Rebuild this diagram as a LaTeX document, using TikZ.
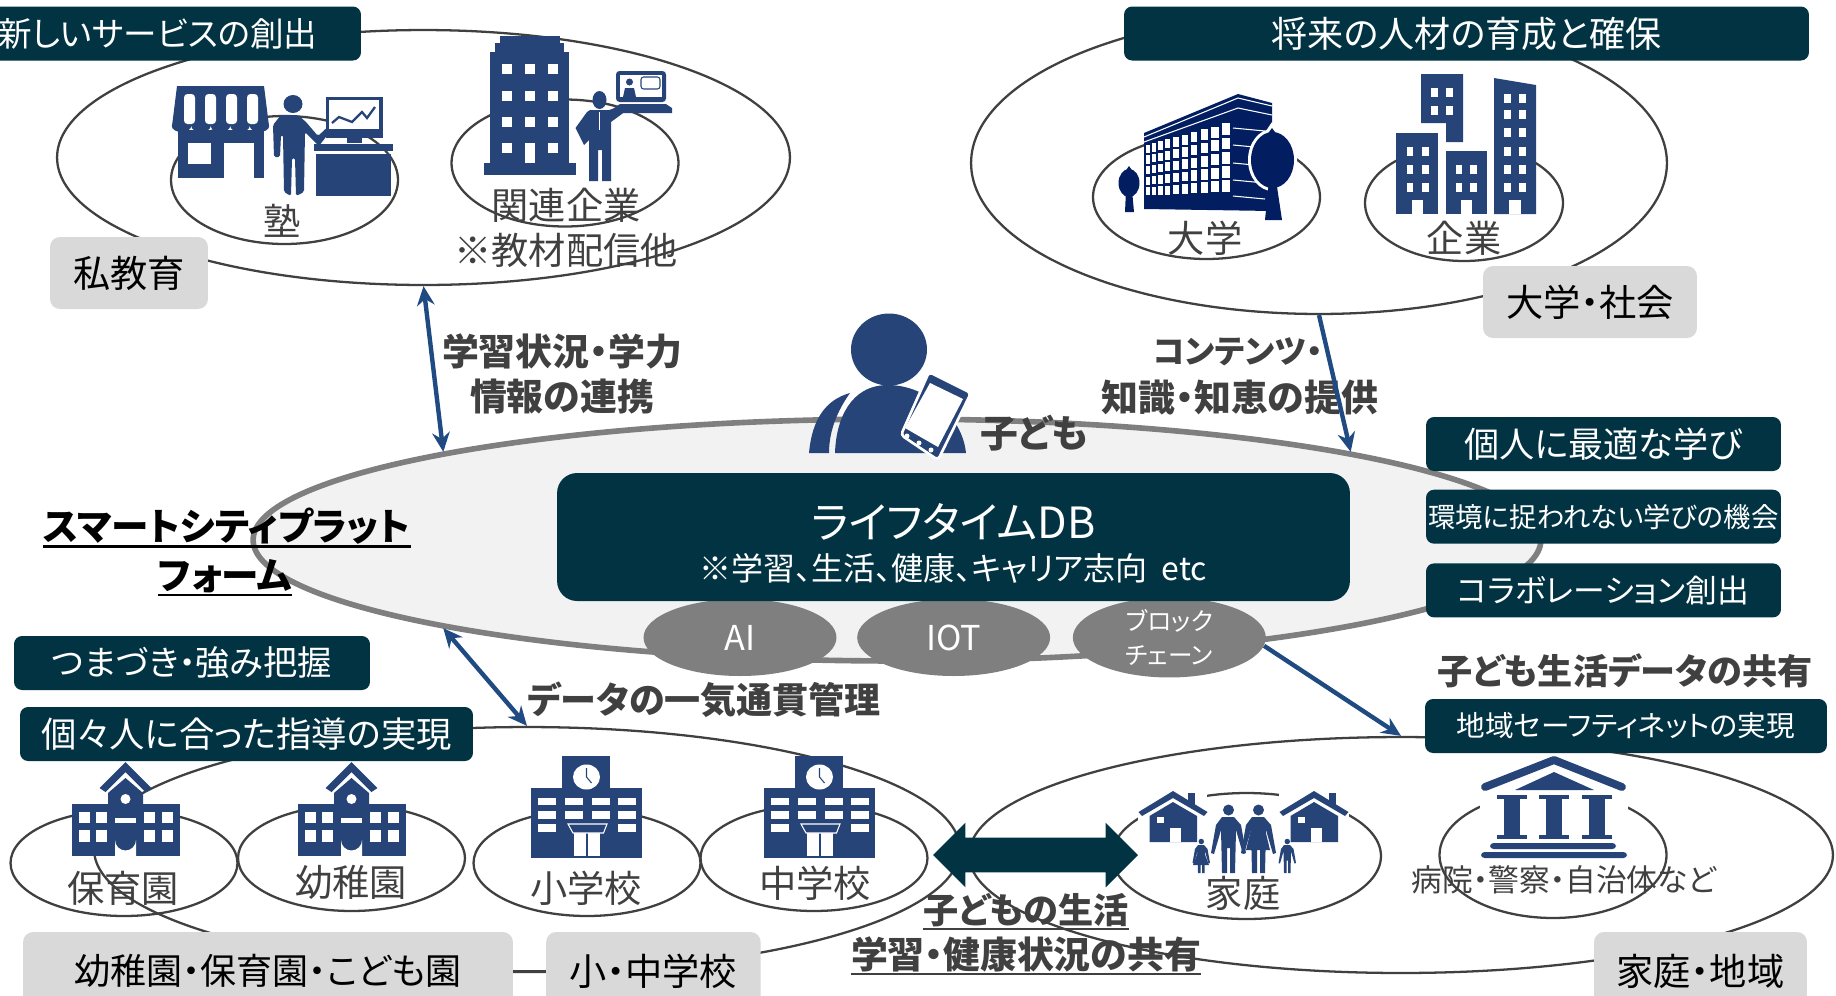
\documentclass[tikz,border=0pt]{standalone}
\usepackage{fontspec}
\setmainfont[RawFeature=+palt]{Noto Sans CJK JP}
\usepackage{xcolor}
\usetikzlibrary{arrows.meta}
\usetikzlibrary{positioning}
\usetikzlibrary{shapes}
\definecolor{tagteal}{HTML}{023343}
\definecolor{iconblue}{HTML}{264478}
\definecolor{campusblue}{HTML}{021E60}
\definecolor{flowblue}{HTML}{1F4A82}
\definecolor{textgrey}{HTML}{404040}
\definecolor{ringgrey}{HTML}{404040}
\definecolor{badgegrey}{HTML}{D9D9D9}
\definecolor{blobgrey}{HTML}{7F7F7F}
\definecolor{platfill}{HTML}{F2F2F2}
\newcommand{\fsize}[1]{\fontsize{#1}{#1}\selectfont}

\tikzset{
    ring/.style={draw=ringgrey, ellipse, line width=1.3pt, inner sep=0pt},
    tagbox/.style={fill=tagteal, text=white, rounded corners=0.16cm, inner sep=0pt,
        minimum height=1.08cm, align=center},
    badge/.style={fill=badgegrey, text=black, rounded corners=0.2cm, inner sep=0pt,
        font=\fsize{21.2}},
    thinlabel/.style={text=textgrey, inner sep=0pt, font=\fsize{21.2}},
    boldlabel/.style={text=textgrey, inner sep=0pt, font=\fsize{20.5}\bfseries},
    blob/.style={fill=blobgrey, text=white, ellipse, inner sep=0pt,
        minimum width=3.86cm, minimum height=1.54cm, align=center},
    flow/.style={draw=flowblue, line width=2.5pt, >={Stealth[length=11pt,width=10pt]}},
    kinder/.pic={
        \fill[iconblue] (-54,42) rectangle (54.5,94);
        \fill[iconblue] (-17.5,42) -- (-17.5,31) -- (0,16) -- (17.5,31) -- (17.5,42) -- cycle;
        \fill[iconblue] (0,0) -- (26,26) -- (20,30) -- (0,10) -- (-20,30) -- (-26,26) -- cycle;
        \fill[white] (0,37) circle[radius=5];
        \foreach \wx in {-46.5,-29.5,18.5,36.5} {
            \fill[white] (\wx,50) rectangle +(11,11);
            \fill[white] (\wx,68) rectangle +(11,12);
        }
        \fill[white] (-10.5,56) rectangle (10.5,61);
        \fill[white] (-10.5,94) -- (-10.5,78) arc[start angle=180, end angle=0, radius=10.5] -- (10.5,94) -- cycle;
    },
    schoolhouse/.pic={
        \fill[iconblue] (-55.5,0) rectangle (55.5,70);
        \fill[iconblue] (-24.5,-32) rectangle (23.5,0);
        \fill[white] (0,-11) ellipse[x radius=13.5, y radius=12.5];
        \draw[iconblue, line width=0.6pt] (0,-20) -- (0,-11) -- (5,-5);
        \foreach \wx in {-48.5,-21.5,5,31.5} {
            \fill[white] (\wx,10) rectangle +(18,7);
            \fill[white] (\wx,23) rectangle +(18,8);
        }
        \foreach \wx in {-48.5,31.5} \fill[white] (\wx,36) rectangle +(18,8);
        \fill[white] (-12.5,45) rectangle (13.5,68);
        \draw[iconblue, line width=0.6pt] (0.5,45) -- (0.5,68);
        \draw[white, fill=iconblue, line width=0.6pt] (-18.5,36) -- (20.5,36) -- (17,45) -- (-13.5,45) -- cycle;
    },
    house/.pic={
        \fill[iconblue] (15,2) rectangle (22,14);
        \fill[iconblue] (0,0) -- (34.5,21) -- (31,25) -- (0,7) -- (-31,25) -- (-34.5,21) -- cycle;
        \fill[iconblue] (0,11) -- (24,25) -- (24,51) -- (-23.5,51) -- (-23.5,25) -- cycle;
        \fill[white] (-16,26) rectangle (-9,32);
        \fill[white] (-3,37) rectangle (8,51);
    },
    adult/.pic={
        \fill[iconblue] (0.5,-63) circle[radius=5.5];
        \fill[iconblue] (-6,-56) -- (6,-56) -- (13,-48) -- (18,-20) -- (15,-19) -- (8,-43) -- (7,0)
            -- (2,0) -- (2,-25) -- (-1,-25) -- (-1,0) -- (-6,0) -- (-7,-43) -- (-14,-19) -- (-17,-20) -- (-12,-48) -- cycle;
    }
}

\begin{document}
\begin{tikzpicture}[x=0.02cm, y=-0.02cm]
    \clip (0,0) rectangle (1836,995);

    % rings
    \node[ring, minimum width=14.66cm, minimum height=5.1cm] (privateell) at (423.5,157.5) {};
    \node[ring, minimum width=4.54cm, minimum height=2.56cm] (jukuell) at (284.5,180) {};
    \node[ring, minimum width=4.54cm, minimum height=2.54cm] (kanrenell) at (565,163) {};
    \node[ring, minimum width=13.92cm, minimum height=6.04cm] (futureell) at (1319,163) {};
    \node[ring, minimum width=4.54cm, minimum height=2.48cm] (univell) at (1206.5,197) {};
    \node[ring, minimum width=3.96cm, minimum height=2.32cm] (compell) at (1464,203) {};
    \node[ring, minimum width=17.32cm, minimum height=4.9cm] (schoolell) at (527,849.5) {};
    \node[ring, minimum width=4.54cm, minimum height=2.12cm] (hoikuell) at (124,863) {};
    \node[ring, minimum width=4.54cm, minimum height=2.12cm] (youchiell) at (351.5,858) {};
    \node[ring, minimum width=4.54cm, minimum height=2.12cm] (shoell) at (587,863) {};
    \node[ring, minimum width=4.54cm, minimum height=2.12cm] (chuell) at (814,858) {};
    \node[ring, minimum width=17.28cm, minimum height=4.72cm] (homeell) at (1401,855) {};
    \node[ring, minimum width=5.38cm, minimum height=2.52cm] (familyell) at (1246.5,856) {};
    \node[ring, minimum width=4.54cm, minimum height=2.52cm] (civicell) at (1553,855) {};

    % platform
    \node[ellipse, draw=blobgrey, fill=platfill, line width=3.2pt, inner sep=0pt,
        minimum width=25.76cm, minimum height=4.84cm] (platform) at (897,540) {};
    \node[blob] (aiell) at (740,637.5) {\fsize{19.5}AI};
    \node[blob, right=0.4cm of aiell] (iotell) {\fsize{19.5}IOT};
    \node[blob, right=0.44cm of iotell] (blockell) {\fsize{14}ブロック\\[7.6pt]\fsize{14}チェーン};

    % shop and teacher
    \fill[iconblue] (177,86) -- (264,86) -- (269,126) -- (172,126) -- cycle;
    \foreach \sx in {181.5,201,220.5,240,259.5} \fill[iconblue] (\sx,126) ellipse[x radius=9.7, y radius=6];
    \foreach \sx in {184,205,226,247} \fill[white, rounded corners=2pt] (\sx,94) rectangle +(11,30);
    \fill[iconblue] (178,130) rectangle (264,178);
    \fill[white] (188,143) rectangle (211,164);
    \fill[white] (223.5,143) rectangle (253.6,178);
    \fill[iconblue] (293,104) ellipse[x radius=9.5, y radius=9];
    \fill[iconblue, rounded corners=1pt] (281,115) -- (298,115) -- (306,122) -- (318,136) -- (333,122) -- (335,125) -- (319,146)
        -- (305,132) -- (304,192) -- (296,196) -- (295,158) -- (292,158) -- (291,196) -- (284,192) -- (283,135) -- (281,135)
        -- (280,157) -- (274,157) -- (273,125) -- cycle;
    \fill[iconblue] (325.5,97) rectangle (382.6,138);
    \fill[white] (329,100) rectangle (379,129);
    \draw[iconblue, line width=1.3pt] (332,123) -- (339,117) -- (352,122) -- (362,112) -- (367,118) -- (375,107);
    \fill[iconblue] (347,138) rectangle (362,143);
    \fill[iconblue] (314,144) rectangle (393,151);
    \fill[iconblue] (316,154) rectangle (391,196);

    % office tower and presenter
    \fill[iconblue] (490,52) rectangle (569,163);
    \fill[iconblue] (495,43) rectangle (564,52);
    \fill[iconblue] (500,36) rectangle (560,43);
    \fill[iconblue] (484,163) rectangle (575.5,175);
    \foreach \wy in {64,91,117,143} {
        \fill[white] (501.5,\wy) rectangle +(10.5,10);
        \fill[white] (547.5,\wy) rectangle +(10.5,10);
    }
    \foreach \wy in {64,91,117} \fill[white] (524.5,\wy) rectangle +(10.5,10);
    \fill[white] (524.5,143) rectangle (535,163);
    \fill[iconblue] (599.5,100) ellipse[x radius=7, y radius=9];
    \fill[iconblue] (590,110) -- (609,110) -- (628,104) -- (630,108) -- (611,122) -- (611,181) -- (602,181) -- (602,150)
        -- (598,150) -- (598,181) -- (589,181) -- (589,140) -- (584,145) -- (575.5,128) -- (587,112) -- cycle;
    \draw[white, line width=0.6pt] (599.5,112) -- (599.5,130);
    \fill[iconblue, rounded corners=2pt] (616,71) rectangle (666,102);
    \fill[white] (620,75) rectangle (662,97);
    \fill[iconblue] (629.5,82) circle[radius=3.5];
    \fill[iconblue] (623,97) -- (625,88) -- (634,88) -- (636,97) -- cycle;
    \draw[iconblue, line width=0.6pt, rounded corners=1.5pt] (641,77) rectangle (660,89);
    \fill[iconblue] (620,104) -- (666,104) -- (672,108) -- (672,113) -- (607,113) -- cycle;

    % university
    \fill[campusblue] (1144,133) -- (1238,94) -- (1272,103) -- (1272,211) -- (1144,209) -- cycle;
    \draw[white, line width=0.6pt] (1144,137) -- (1238,98) -- (1272,106);
    \draw[white, line width=0.6pt] (1144,142) -- (1238,108) -- (1272,115);
    \foreach \wc in {0,...,9} \foreach \wr in {0,...,4} {
        \pgfmathsetmacro{\wl}{1146+5.5*\wc+0.33*\wc*\wc}
        \pgfmathsetmacro{\wt}{144-(\wl-1145)*24/86}
        \pgfmathsetmacro{\wh}{(197-(\wl-1145)*4/86-\wt)/5}
        \fill[white] (\wl,\wt+\wr*\wh+1) rectangle (\wl+3.5+0.5*\wc,\wt+\wr*\wh+\wh-1.5);
    }
    \foreach \wy in {128,145,163,180,196} \draw[white, line width=0.6pt] (1233,\wy) -- (1265,\wy+3);
    \fill[white] (1272.5,160) ellipse[x radius=24.5, y radius=31];
    \fill[white] (1272,122) -- (1289,147) -- (1255,147) -- cycle;
    \fill[campusblue] (1272.5,160) ellipse[x radius=21.5, y radius=28];
    \fill[campusblue] (1272,128) -- (1286,147) -- (1258,147) -- cycle;
    \fill[campusblue] (1269,180) -- (1276,180) -- (1282,220) -- (1265,220) -- cycle;
    \fill[campusblue] (1129,183) ellipse[x radius=10.5, y radius=14];
    \fill[campusblue] (1129,166) -- (1136,176) -- (1122,176) -- cycle;
    \fill[campusblue] (1126,190) -- (1132,190) -- (1134,212) -- (1125,212) -- cycle;

    % city blocks
    \fill[white] (1396,74) rectangle (1536,214);
    \fill[iconblue] (1421,74) -- (1463,74) -- (1463,142) -- (1446,142) -- (1446,123) -- (1421,123) -- cycle;
    \fill[iconblue] (1396,133) rectangle (1438,214);
    \fill[iconblue] (1445.5,151) rectangle (1487,214);
    \fill[iconblue] (1494,78) -- (1536,85) -- (1536,214) -- (1494,214) -- cycle;
    \foreach \wy in {88,106} \foreach \wx in {1431,1446} \fill[white] (\wx,\wy) rectangle +(7,8.5);
    \foreach \wy in {147,165,183} \foreach \wx in {1406.5,1422} \fill[white] (\wx,\wy) rectangle +(6.5,8.5);
    \foreach \wy in {165,183} \foreach \wx in {1455.7,1470} \fill[white] (\wx,\wy) rectangle +(6.7,8.5);
    \foreach \wy in {94,110,128,147,165,183} \foreach \wx in {1504,1519} \fill[white] (\wx,\wy) rectangle +(7,8.5);
    \fill[white] (1411.6,200) rectangle (1423,214);
    \fill[white] (1460.7,200) rectangle (1472,214);
    \fill[white] (1509,200) rectangle (1521,214);

    % schools
    \pic at (125.5,762) {kinder};
    \pic at (351.5,762) {kinder};
    \pic at (586.5,788) {schoolhouse};
    \pic at (819.5,788) {schoolhouse};

    % family
    \fill[white] (1138,791) rectangle (1207,843);
    \fill[white] (1279,791) rectangle (1349,843);
    \fill[white] (1191,803) rectangle (1295,875);
    \pic at (1173,791) {house};
    \pic at (1314,791) {house};
    \pic at (1228,873) {adult};
    \pic at (1258,873) {adult};
    \fill[iconblue] (1252,825) -- (1264,825) -- (1270,850) -- (1246,850) -- cycle;
    \pic[scale=0.5] at (1201,873) {adult};
    \pic[scale=0.5] at (1287,873) {adult};
    \fill[iconblue] (1198,852) -- (1204,852) -- (1209,865) -- (1193,865) -- cycle;

    % public institution
    \fill[white] (1480,756) rectangle (1628,858);
    \draw[iconblue, line width=4.5pt, line cap=round, line join=round] (1485,787) -- (1554,760) -- (1622,787);
    \fill[iconblue] (1554,772) -- (1594,790) -- (1515,790) -- cycle;
    \foreach \cx in {1497,1539,1582} {
        \fill[iconblue] (\cx,795) rectangle +(30,4);
        \fill[iconblue] (\cx+7,799) rectangle +(16,36);
        \fill[iconblue] (\cx,835) rectangle +(30,4);
    }
    \fill[iconblue, rounded corners=2pt] (1490,843) rectangle (1616,849);
    \fill[iconblue, rounded corners=2pt] (1481,852) rectangle (1627,858);

    % child with phone
    \fill[iconblue] (889,349.5) ellipse[x radius=38, y radius=36];
    \fill[iconblue] (835,453) .. controls (836,420) and (850,385) .. (888,385) .. controls (925,385) and (962,415) .. (966,453) -- cycle;
    \fill[iconblue] (809,453) .. controls (812,420) and (825,400) .. (850,393) .. controls (838,410) and (829,430) .. (829,453) -- cycle;
    \draw[white, fill=iconblue, line width=1.5pt, rounded corners=2pt] (929,372) -- (971,393) -- (938,460) -- (901,435) -- cycle;
    \fill[white] (930,383) -- (963,399) -- (938,447) -- (905,428) -- cycle;
    \foreach \bx/\by in {907/436,919/443,931/450} \fill[white] (\bx,\by) circle[radius=2.5];

    % double arrow
    \node[double arrow, fill=tagteal, inner xsep=0pt, inner ysep=0.34cm, minimum height=4.1cm, minimum width=1.28cm,
        double arrow head extend=0.3cm] (sharearrow) at (1035.5,855) {};

    % database
    \node[tagbox, rounded corners=0.4cm, minimum width=15.86cm, minimum height=2.56cm] (lifedb) at (953.5,537)
        {\rule{0pt}{27.5pt}{\fsize{24.5}ライフタイムDB}\\[6.5pt]{\fsize{18.2}※学習、生活、健康、キャリア志向\ \ etc}};

    % tags
    \node[tagbox, minimum width=8.12cm, font=\fsize{19.1}] (newservice) at (158,33.5) {新しいサービスの創出};
    \node[tagbox, minimum width=13.7cm, font=\fsize{20.5}] (future) at (1466.5,33.5) {将来の人材の育成と確保};
    \node[tagbox, minimum width=7.1cm, font=\fsize{20}] (bestlearn) at (1603.5,444) {個人に最適な学び};
    \node[tagbox, minimum width=7.1cm, font=\fsize{15.6}, below=0.36cm of bestlearn] (anywhere) {環境に捉われない学びの機会};
    \node[tagbox, minimum width=7.1cm, font=\fsize{18.1}, below=0.38cm of anywhere] (collab) {コラボレーション創出};
    \node[tagbox, minimum width=7.12cm, font=\fsize{19.5}] (strength) at (192,663) {つまづき・強み把握};
    \node[tagbox, minimum width=9.06cm, font=\fsize{20.1}] (guidance) at (246.5,734) {個々人に合った指導の実現};
    \node[tagbox, minimum width=8.04cm, font=\fsize{16.3}] (safetynet) at (1626,726) {地域セーフティネットの実現};

    % badges
    \node[badge, minimum width=3.16cm, minimum height=1.44cm] (privatebadge) at (129,273) {私教育};
    \node[badge, minimum width=4.28cm, minimum height=1.44cm] (collegebadge) at (1590,302) {大学・社会};
    \node[badge, minimum width=9.8cm, minimum height=1.56cm, font=\fsize{20.5}] (preschoolbadge) at (268,971) {幼稚園・保育園・こども園};
    \node[badge, minimum width=4.29cm, minimum height=1.56cm, right=0.65cm of preschoolbadge] (schoolbadge) {小・中学校};
    \node[badge, minimum width=4.26cm, minimum height=1.56cm] (homebadge) at (1700.5,971) {家庭・地域};

    % ring labels
    \node[thinlabel] (jukutext) at (282,221) {塾};
    \node[thinlabel] (kanrentext) at (566,205) {関連企業};
    \node[thinlabel] (kyozaitext) at (566,250) {※教材配信他};
    \node[thinlabel] (univtext) at (1205,238) {大学};
    \node[thinlabel] (comptext) at (1464,238) {企業};
    \node[thinlabel] (hoikutext) at (123,888) {保育園};
    \node[thinlabel] (youchitext) at (351,882) {幼稚園};
    \node[thinlabel] (shotext) at (586,888) {小学校};
    \node[thinlabel] (chutext) at (815,883) {中学校};
    \node[thinlabel] (familytext) at (1243,893) {家庭};
    \node[thinlabel, font=\fsize{17.5}] (civictext) at (1564,880) {病院・警察・自治体など};

    % bold labels
    \node[boldlabel, font=\fsize{21.5}\bfseries] (kidtext) at (1034,433) {子ども};
    \node[boldlabel, font=\fsize{21}\bfseries] (linktop) at (562,351) {学習状況・学力};
    \node[boldlabel, font=\fsize{21}\bfseries] (linkbot) at (562,397) {情報の連携};
    \node[boldlabel, font=\fsize{18.5}\bfseries] (contenttop) at (1238,352) {コンテンツ・};
    \node[boldlabel, font=\fsize{21}\bfseries] (contentbot) at (1240,398) {知識・知恵の提供};
    \node[boldlabel] (pipetext) at (704,700) {データの一気通貫管理};
    \node[boldlabel, font=\fsize{20}\bfseries] (lifedatatext) at (1625,671) {子ども生活データの共有};
    \node[boldlabel, font=\fsize{20}\bfseries] (sharetop) at (1026,910) {子どもの生活};
    \node[boldlabel, font=\fsize{21}\bfseries] (sharebot) at (1026,954) {学習・健康状況の共有};
    \node[inner sep=0pt, text=black, font=\fsize{21.4}\bfseries] (smarttop) at (227,526) {スマートシティプラット};
    \node[inner sep=0pt, text=black, font=\fsize{21.4}\bfseries] (smartbot) at (225,576) {フォーム};

    % underlines
    \draw[textgrey, line width=1.4pt] ([yshift=-1pt]sharetop.south west) -- ([yshift=-1pt]sharetop.south east);
    \draw[textgrey, line width=1.4pt] ([yshift=-1pt]sharebot.south west) -- ([yshift=-1pt]sharebot.south east);
    \draw[black, line width=1.4pt] ([yshift=-1pt]smarttop.south west) -- ([yshift=-1pt]smarttop.south east);
    \draw[black, line width=1.4pt] ([yshift=-1pt]smartbot.south west) -- ([yshift=-1pt]smartbot.south east);

    % connectors
    \draw[flow, <->] (privateell.-90) -- (platform.169.4);
    \draw[flow, ->] (futureell.-90) -- (platform.11.6);
    \draw[flow, <->] (platform.191) -- (schoolell.90);
    \draw[flow, ->] (blockell.-5.8) -- (homeell.90);
    \draw[ringgrey, line width=1.3pt] (preschoolbadge) -- (schoolbadge);
\end{tikzpicture}
\end{document}
